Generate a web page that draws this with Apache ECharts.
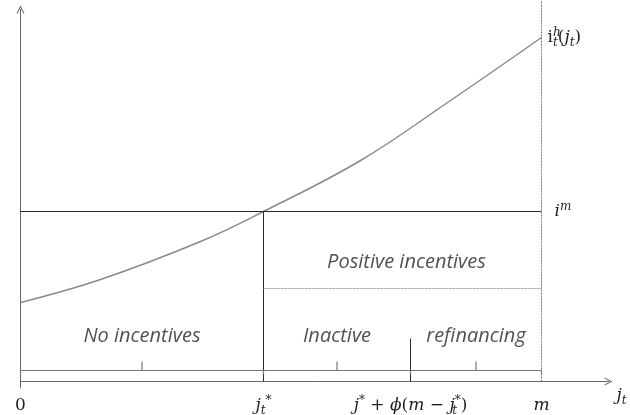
<!DOCTYPE html>
<html><head><meta charset="utf-8">
<script src="https://cdn.jsdelivr.net/npm/echarts@6/dist/echarts.min.js"></script>
<style>html,body{margin:0;padding:0;background:#fff}#c{width:630px;height:415px}</style>
</head><body><div id="c"></div>
<script>
// ---- data (horizontal: j_t, vertical: rate) ----
const jStar = 243;
const jPhi = 390;
const mVal = 521;
const xMax = 588;
const yMin = -6;
const yMax = 372;
const iM = 170;
const posIncLevel = 93;
const curveX = [0, 80, 180, 243, 340, 430, 521];
const curveY = [79, 102, 140, 170, 221, 281, 344];
const tickValues = [0, jStar, jPhi, mVal];
const tickLabels = [
  '{r|0}',
  '{n|j}{sb|t}{sp|*}',
  '{n|j}{sp|*}{r| + }{n|ϕ}{r|(}{n|m}{r| − }{n|j}{sb0|t}{sp|*}{r|)}',
  '{n|m}'
];
const segNames = ['No incentives', 'Inactive', 'refinancing'];
const segStart = [0, jStar, jPhi];
const segEnd = [jStar, jPhi, mVal];
const posIncName = 'Positive incentives';

// ---- styling constants ----
const lowLabelY = 45, posLabelY = 119;
const brLine = 11, brHook = 7, brPeak = 20;
const serif = 'DejaVu Serif';
const ink = '#1e1e28';
const mathRich = {
  n: {fontFamily: serif, fontStyle: 'italic', fontSize: 17, lineHeight: 22, verticalAlign: 'middle', color: ink},
  r: {fontFamily: serif, fontSize: 17, lineHeight: 22, verticalAlign: 'middle', color: ink},
  sb: {fontFamily: serif, fontStyle: 'italic', fontSize: 12, lineHeight: 12, verticalAlign: 'bottom', color: ink},
  sb0: {fontFamily: serif, fontStyle: 'italic', fontSize: 12, lineHeight: 12, verticalAlign: 'bottom', color: ink, width: 0},
  sp: {fontFamily: serif, fontStyle: 'italic', fontSize: 12, lineHeight: 12, verticalAlign: 'top', color: ink},
  sp0: {fontFamily: serif, fontStyle: 'italic', fontSize: 12, lineHeight: 12, verticalAlign: 'top', color: ink, width: 0}
};
const arrow = 'path://M0,10 L5,0 L10,10 L8.6,10 L5,2.8 L1.4,10 Z';

// brackets built from the segment arrays
const bracketData = [];
segNames.forEach((n, i) => {
  const a = segStart[i], b = segEnd[i], mid = (a + b) / 2;
  bracketData.push([a, brHook], [a, brLine], [mid, brLine], [mid, brPeak], [mid, brLine], [b, brLine], [b, brHook], '-');
});

const textLabels = segNames.map((n, i) => ({name: n, value: [(segStart[i] + segEnd[i]) / 2, lowLabelY]}));
textLabels.push({name: posIncName, value: [(jStar + mVal) / 2 + 4, posLabelY]});

const lineBase = {type: 'line', symbol: 'none', silent: true, animation: false};

const chart = echarts.init(document.getElementById('c'));
chart.setOption({
  animation: false,
  backgroundColor: '#fff',
  grid: {left: 20.5, right: 21.5, top: 9.5, bottom: 27.5, containLabel: false, outerBoundsMode: 'none'},
  xAxis: {
    type: 'value', min: 0, max: xMax,
    splitLine: {show: false},
    axisTick: {show: false},
    axisLine: {show: true, onZero: true, symbol: ['none', arrow], symbolSize: [10, 8], lineStyle: {color: '#666', width: 1}},
    axisLabel: {
      show: true, customValues: tickValues, margin: 7, hideOverlap: false,
      formatter: v => tickLabels[tickValues.indexOf(v)] || '',
      rich: mathRich
    },
    name: '{n|j}{sb|t}', nameLocation: 'end', nameGap: 8,
    nameTextStyle: {rich: mathRich, verticalAlign: 'top', padding: [3, 0, 0, 0]}
  },
  yAxis: {
    type: 'value', min: yMin, max: yMax,
    splitLine: {show: false},
    axisTick: {show: false},
    axisLabel: {show: false},
    axisLine: {show: true, onZero: true, symbol: ['none', arrow], symbolSize: [10, 8], lineStyle: {color: '#666', width: 1}}
  },
  series: [
    Object.assign({}, lineBase, {
      name: 'curve', smooth: 0.4,
      data: curveX.map((x, i) => [x, curveY[i]]),
      lineStyle: {color: '#8a8a8a', width: 1.5},
      endLabel: {show: true, distance: 6, formatter: '{r|i}{sp0|h}{sb|t}{r|(}{n|j}{sb|t}{r|)}', rich: mathRich}
    }),
    Object.assign({}, lineBase, {
      name: 'im', data: [[0, iM], [mVal, iM]],
      lineStyle: {color: '#2a2a2a', width: 1},
      endLabel: {show: true, distance: 13, formatter: '{n|i}{sp|m}', rich: mathRich}
    }),
    Object.assign({}, lineBase, {name: 'vStar', data: [[jStar, 0], [jStar, iM]], lineStyle: {color: '#2a2a2a', width: 1}}),
    Object.assign({}, lineBase, {name: 'vPhi', data: [[jPhi, 0], [jPhi, 43]], lineStyle: {color: '#2a2a2a', width: 1}}),
    Object.assign({}, lineBase, {name: 'vM', clip: false, data: [[mVal, 0], [mVal, 381]], lineStyle: {color: '#777', width: 1, type: [2, 1]}}),
    Object.assign({}, lineBase, {name: 'pos', data: [[jStar, posIncLevel], [mVal, posIncLevel]], lineStyle: {color: '#999', width: 1, type: [2, 1]}}),
    Object.assign({}, lineBase, {name: 'brackets', data: bracketData, connectNulls: false, lineStyle: {color: '#777', width: 1.2}}),
    {
      type: 'scatter', silent: true, symbolSize: 0, data: textLabels,
      label: {show: true, position: 'inside', formatter: '{b}', fontFamily: 'Open Sans', fontStyle: 'italic', fontSize: 20, color: '#262626'}
    }
  ]
});
</script></body></html>
